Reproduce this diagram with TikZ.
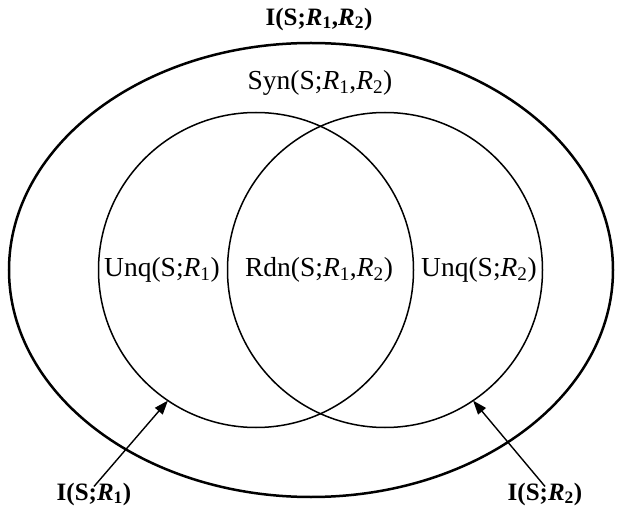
\documentclass[tikz,border=0pt]{standalone}
\usepackage{fontspec}
\setmainfont{Liberation Serif}
\usetikzlibrary{arrows.meta,shapes.geometric}
\newcommand{\Rv}{\textit{R}}
\newcommand{\Rb}{\textbf{\textit{R}}}
\begin{document}
\begin{tikzpicture}[x=1pt,y=-1pt,
  lbl/.style={font=\fontsize{27.5}{32}\selectfont, inner sep=0pt},
  blbl/.style={font=\fontsize{25}{30}\selectfont\bfseries, inner sep=0pt},
  setc/.style={circle, draw, line width=1.5pt, minimum size=315pt, inner sep=0pt, outer sep=0pt},
  arr/.style={line width=1.4pt, -{Triangle[length=14pt,width=10pt]}}]
\useasboundingbox (0,0) rectangle (619,513);
\node[ellipse, draw, line width=2.5pt, minimum width=604pt, minimum height=454pt, inner sep=0pt, outer sep=0pt] (outer) at (311,270) {};
\node[setc] (c1) at (256,270) {};
\node[setc] (c2) at (385,270) {};
\node[blbl] (tot) at (319,19) {I(S;\Rb\textsubscript{1},\Rb\textsubscript{2})};
\node[lbl] (syn) at (320,83) {Syn(S;\Rv\textsubscript{1},\Rv\textsubscript{2})};
\node[lbl] (u1) at (162,270) {Unq(S;\Rv\textsubscript{1})};
\node[lbl] (rdn) at (319,270) {Rdn(S;\Rv\textsubscript{1},\Rv\textsubscript{2})};
\node[lbl] (u2) at (479,270) {Unq(S;\Rv\textsubscript{2})};
\node[blbl] (i1) at (94,494) {I(S;\Rb\textsubscript{1})};
\node[blbl] (i2) at (545,494) {I(S;\Rb\textsubscript{2})};
\coordinate (t1) at ([yshift=-4pt]i1.north);
\coordinate (t2) at ([yshift=-4pt]i2.north);
\draw[arr] (t1) -- (c1.236);
\draw[arr] (t2) -- (c2.304);
\end{tikzpicture}
\end{document}
